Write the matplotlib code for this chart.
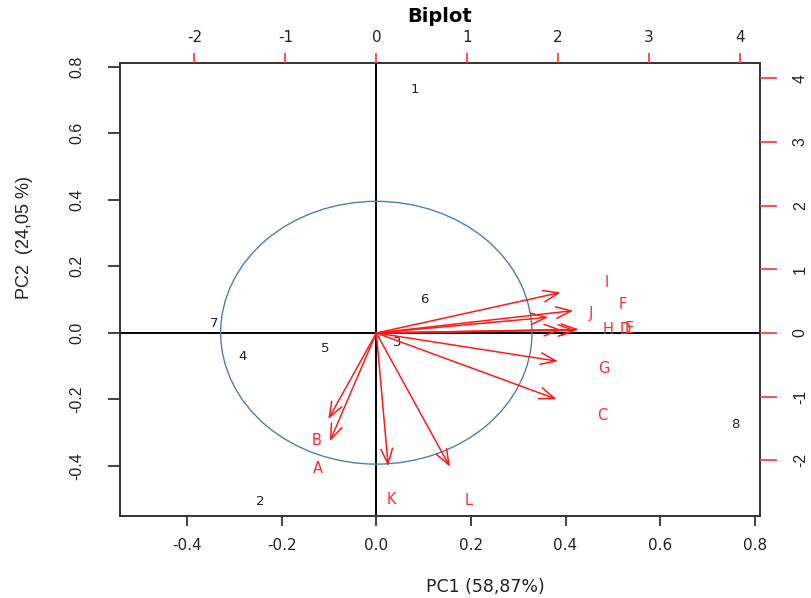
import numpy as np
import matplotlib
matplotlib.use("Agg")
import matplotlib.pyplot as plt
from matplotlib.patches import Ellipse

# Data ------------------------------------------------------------------

# observations (scores, bottom/left scale)
obs_labels = ["1", "2", "3", "4", "5", "6", "7", "8"]
obs_pc1 = [0.082, -0.246, 0.045, -0.283, -0.108, 0.101, -0.342, 0.758]
obs_pc2 = [0.730, -0.506, -0.029, -0.072, -0.046, 0.100, 0.029, -0.276]

# variables (loadings, top/right scale)
var_labels = ["A", "B", "C", "D", "E", "F", "G", "H", "I", "J", "K", "L"]
var_pc1 = [-0.639, -0.661, 2.480, 2.740, 2.784, 2.710, 2.499, 2.546,
           2.535, 2.364, 0.164, 1.012]
var_pc2 = [-2.127, -1.693, -1.300, 0.055, 0.071, 0.440, -0.555, 0.063,
           0.797, 0.310, -2.615, -2.626]

x_ticks = [-0.4, -0.2, 0.0, 0.2, 0.4, 0.6, 0.8]
y_ticks = [-0.4, -0.2, 0.0, 0.2, 0.4, 0.6, 0.8]
var_ticks = [-2, -1, 0, 1, 2, 3, 4]

circle_w, circle_h = 0.658, 0.790

title = "Biplot"
xlabel = "PC1 (58,87%)"
ylabel = "PC2  (24,05 %)"

# Plotting --------------------------------------------------------------

# wide font for horizontal texts, Arial-like one for rotated texts
wide = ["DejaVu Sans"]
narrow = ["Liberation Sans", "DejaVu Sans"]
plt.rcParams["font.family"] = wide

W, H = 812, 598
fig = plt.figure(figsize=(W / 100, H / 100), dpi=100)

left, right, top, bottom = 120, 759.5, 63.3, 516
pos = [left / W, 1 - bottom / H, (right - left) / W, (bottom - top) / H]

ax = fig.add_axes(pos)
ax.set_xlim(-0.5417, 0.8099)
ax.set_ylim(-0.551, 0.810)

for s in ax.spines.values():
    s.set_color("#333333")
    s.set_linewidth(1.4)

ax.set_xticks(x_ticks)
ax.set_xticklabels([f"{v:.1f}" for v in x_ticks])
ax.set_yticks(y_ticks)
ax.set_yticklabels([f"{v:.1f}" for v in y_ticks], rotation=90, va="center",
                   family=narrow)
ax.tick_params(axis="x", length=7, width=1.3, color="#333333", pad=9,
               labelsize=11, labelcolor="#222222")
ax.tick_params(axis="y", length=8.5, width=1.3, color="#333333", pad=17,
               labelsize=11.5, labelcolor="#222222")

ax.axhline(0, color="black", lw=1.4, zorder=1)
ax.axvline(0, color="black", lw=1.4, zorder=1)

ax.add_patch(Ellipse((0, 0), circle_w, circle_h, fill=False,
                     edgecolor="#4f7eae", lw=1.0, zorder=2))

for lab, x, y in zip(obs_labels, obs_pc1, obs_pc2):
    ax.text(x, y, lab, ha="center", va="center", fontsize=9.5,
            color="#222222", zorder=3)

# second axes for the variable scale (top / right)
ax2 = fig.add_axes(pos, frameon=False)
ax2.set_xlim(-2.819, 4.214)
ax2.set_ylim(-2.873, 4.235)
ax2.xaxis.tick_top()
ax2.yaxis.tick_right()
ax2.set_xticks(var_ticks)
ax2.set_yticks(var_ticks)
ax2.set_xticklabels([str(v) for v in var_ticks])
ax2.set_yticklabels([str(v) for v in var_ticks], rotation=90, va="center",
                    family=narrow)
ax2.tick_params(axis="x", length=7, width=1.3, color="#ff4040", pad=6,
                labelsize=11, labelcolor="#222222")
ax2.tick_params(axis="y", length=12, width=1.3, color="#ff4040", pad=12,
                labelsize=11.5, labelcolor="#222222")

# R biplot draws arrows to 0.8 of the label position
for lab, x, y in zip(var_labels, var_pc1, var_pc2):
    ax2.annotate("", xy=(0.8 * x, 0.8 * y), xytext=(0, 0),
                 arrowprops=dict(arrowstyle="->,head_length=0.85,head_width=0.32",
                                 color="#ff1a1a", lw=1.1, mutation_scale=13,
                                 shrinkA=0, shrinkB=0))
    ax2.text(x, y, lab, ha="center", va="center", fontsize=10.5,
             color="#ff2a2a", zorder=4)

fig.text(440 / W, 1 - 16 / H, title, ha="center", va="center",
         fontsize=14, fontweight="bold")
fig.text(485 / W, 1 - 587 / H, xlabel, ha="center", va="center",
         fontsize=12.5, color="#222222")
fig.text(25 / W, 1 - 237 / H, ylabel, ha="center", va="center",
         fontsize=13, rotation=90, color="#222222", family=narrow)

fig.savefig("out.png", dpi=100)
